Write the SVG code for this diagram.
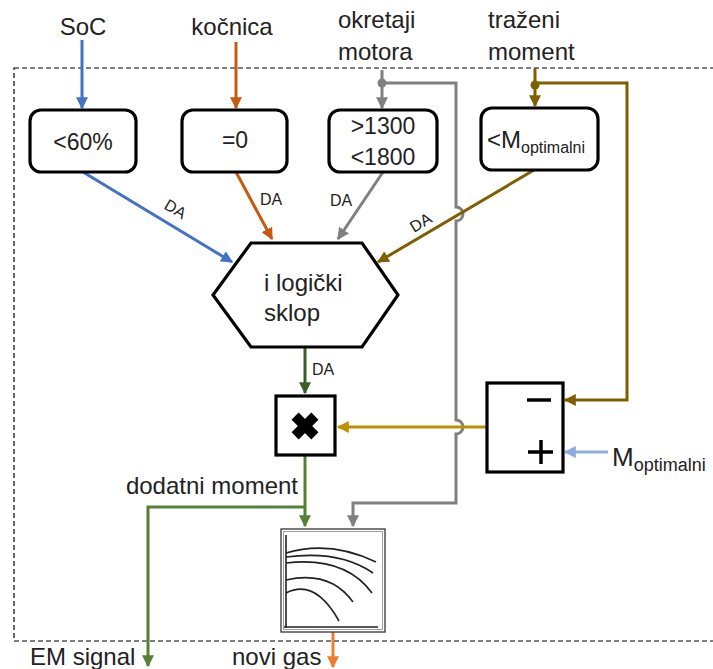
<svg xmlns="http://www.w3.org/2000/svg" width="713" height="669" viewBox="0 0 713 669">
<style>
text{font-family:"Liberation Sans",Arial,sans-serif;fill:#222}
.lbl{font-size:24px}
.bx{font-size:23px}
.da{font-size:16px}
.box{fill:#fff;stroke:#000;stroke-width:3.2}
.ln{fill:none;stroke-width:3}
.blue{stroke:#4472C4}.orange{stroke:#C55A11}.gray{stroke:#808080}.brown{stroke:#7F6000}
.dgreen{stroke:#3B5E2B}.green{stroke:#548235}.gold{stroke:#BF9000}.lblue{stroke:#8FAADC}.orange2{stroke:#ED7D31}
</style>
<defs>
<marker id="aBlue" viewBox="0 0 10 10" refX="9" refY="5" markerWidth="4" markerHeight="4" orient="auto"><path d="M0,0L10,5L0,10z" fill="#4472C4"/></marker>
<marker id="aOrange" viewBox="0 0 10 10" refX="9" refY="5" markerWidth="4" markerHeight="4" orient="auto"><path d="M0,0L10,5L0,10z" fill="#C55A11"/></marker>
<marker id="aGray" viewBox="0 0 10 10" refX="9" refY="5" markerWidth="4" markerHeight="4" orient="auto"><path d="M0,0L10,5L0,10z" fill="#808080"/></marker>
<marker id="aBrown" viewBox="0 0 10 10" refX="9" refY="5" markerWidth="4" markerHeight="4" orient="auto"><path d="M0,0L10,5L0,10z" fill="#7F6000"/></marker>
<marker id="aDgreen" viewBox="0 0 10 10" refX="9" refY="5" markerWidth="4" markerHeight="4" orient="auto"><path d="M0,0L10,5L0,10z" fill="#3B5E2B"/></marker>
<marker id="aGreen" viewBox="0 0 10 10" refX="9" refY="5" markerWidth="4" markerHeight="4" orient="auto"><path d="M0,0L10,5L0,10z" fill="#548235"/></marker>
<marker id="aGold" viewBox="0 0 10 10" refX="9" refY="5" markerWidth="4" markerHeight="4" orient="auto"><path d="M0,0L10,5L0,10z" fill="#BF9000"/></marker>
<marker id="aLblue" viewBox="0 0 10 10" refX="9" refY="5" markerWidth="4" markerHeight="4" orient="auto"><path d="M0,0L10,5L0,10z" fill="#8FAADC"/></marker>
<marker id="aOrange2" viewBox="0 0 10 10" refX="9" refY="5" markerWidth="4" markerHeight="4" orient="auto"><path d="M0,0L10,5L0,10z" fill="#ED7D31"/></marker>
</defs>
<rect width="713" height="669" fill="#fff"/>
<rect id="boundary" x="14" y="68" width="720" height="573" fill="none" stroke="#000" stroke-width="1.2" stroke-dasharray="5 3"/>

<g id="inputs">
<text class="lbl" x="83" y="35" text-anchor="middle">SoC</text>
<text class="lbl" x="232" y="35" text-anchor="middle">kočnica</text>
<text class="lbl" x="338" y="28">okretaji</text>
<text class="lbl" x="338" y="60">motora</text>
<text class="lbl" x="488" y="28">traženi</text>
<text class="lbl" x="488" y="60">moment</text>
</g>

<g id="connectors">
<path class="ln blue" d="M82,40V108" marker-end="url(#aBlue)"/>
<path class="ln orange" d="M236,42V108" marker-end="url(#aOrange)"/>
<path class="ln gray" d="M382,70V108" marker-end="url(#aGray)"/>
<circle cx="382" cy="83" r="4.5" fill="#808080"/>
<path class="ln gray" d="M382,83H456V207a7,7 0 0 1 0,14V420a7,7 0 0 1 0,14V503H353V526" marker-end="url(#aGray)"/>
<path class="ln brown" d="M535,68V106" marker-end="url(#aBrown)"/>
<circle cx="535" cy="85" r="4.5" fill="#7F6000"/>
<path class="ln brown" d="M535,83H627V400H565" marker-end="url(#aBrown)"/>

<path class="ln blue" d="M83,172L232,262" marker-end="url(#aBlue)"/>
<path class="ln orange" d="M236,172L272,239" marker-end="url(#aOrange)"/>
<path class="ln gray" d="M383,172L338,239" marker-end="url(#aGray)"/>
<path class="ln brown" d="M534,170L378,262" marker-end="url(#aBrown)"/>

<path class="ln dgreen" d="M305,347V393" marker-end="url(#aDgreen)"/>
<path class="ln gold" d="M487,427H338" marker-end="url(#aGold)"/>
<path class="ln lblue" d="M608,452H565" marker-end="url(#aLblue)"/>
<path class="ln green" d="M305,456V526" marker-end="url(#aGreen)"/>
<path class="ln green" d="M305,507H148V666" marker-end="url(#aGreen)"/>
<path class="ln orange2" d="M333,632V667" marker-end="url(#aOrange2)"/>

<text class="da" transform="translate(163,208) rotate(31)">DA</text>
<text class="da" x="260" y="205">DA</text>
<text class="da" x="330" y="206">DA</text>
<text class="da" transform="translate(414,233) rotate(-31)">DA</text>
<text class="da" x="312" y="375">DA</text>
<text class="lbl" x="298" y="494" text-anchor="end">dodatni moment</text>
<text class="lbl" x="30" y="665">EM signal</text>
<text class="lbl" x="232" y="665">novi gas</text>
</g>

<g id="soc-check">
<rect class="box" x="30" y="110" width="106" height="62" rx="11"/>
<text class="bx" x="83" y="150" text-anchor="middle">&lt;60%</text>
</g>
<g id="brake-check">
<rect class="box" x="182" y="110" width="105" height="62" rx="11"/>
<text class="bx" x="235" y="148" text-anchor="middle">=0</text>
</g>
<g id="rpm-check">
<rect class="box" x="329" y="110" width="108" height="62" rx="11"/>
<text class="bx" x="383" y="134" text-anchor="middle">&gt;1300</text>
<text class="bx" x="383" y="165" text-anchor="middle">&lt;1800</text>
</g>
<g id="torque-check">
<rect class="box" x="481" y="108" width="117" height="62" rx="11"/>
<text x="487" y="148"><tspan font-size="24">&lt;M</tspan><tspan font-size="16" dy="5">optimalni</tspan></text>
</g>
<g id="and-gate">
<polygon class="box" points="251,243 362,243 398,295 362,347 251,347 213,295"/>
<text class="lbl" x="264" y="291">i logički</text>
<text class="lbl" x="264" y="321">sklop</text>
</g>
<g id="multiplier">
<rect class="box" x="276" y="396" width="59" height="59"/>
<g transform="translate(305,426) rotate(45)" fill="#000">
<rect x="-14" y="-5" width="28" height="10"/>
<rect x="-5" y="-14" width="10" height="28"/>
</g>
</g>
<g id="subtractor">
<rect class="box" x="487" y="383" width="76" height="89"/>
<path d="M527,400H551" stroke="#000" stroke-width="3.5"/>
<path d="M528,452H553M541,440V464" stroke="#000" stroke-width="3.5"/>
<text x="612" y="466"><tspan font-size="26">M</tspan><tspan font-size="18" dy="5">optimalni</tspan></text>
</g>
<g id="map">
<rect x="281" y="529" width="104" height="103" fill="#fff" stroke="#333" stroke-width="1.3"/>
<rect x="283.5" y="531.5" width="99" height="98" fill="none" stroke="#888" stroke-width="0.8"/>
<g fill="none" stroke="#222" stroke-width="1.6">
<path d="M286,535V628M284,627H378"/>
<path d="M286,553Q330,540 376,562"/>
<path d="M286,557Q340,550 373,573"/>
<path d="M286,563Q345,556 372,593"/>
<path d="M286,580Q330,570 353,602"/>
<path d="M286,593Q315,578 339,621"/>
</g>
</g>
</svg>
